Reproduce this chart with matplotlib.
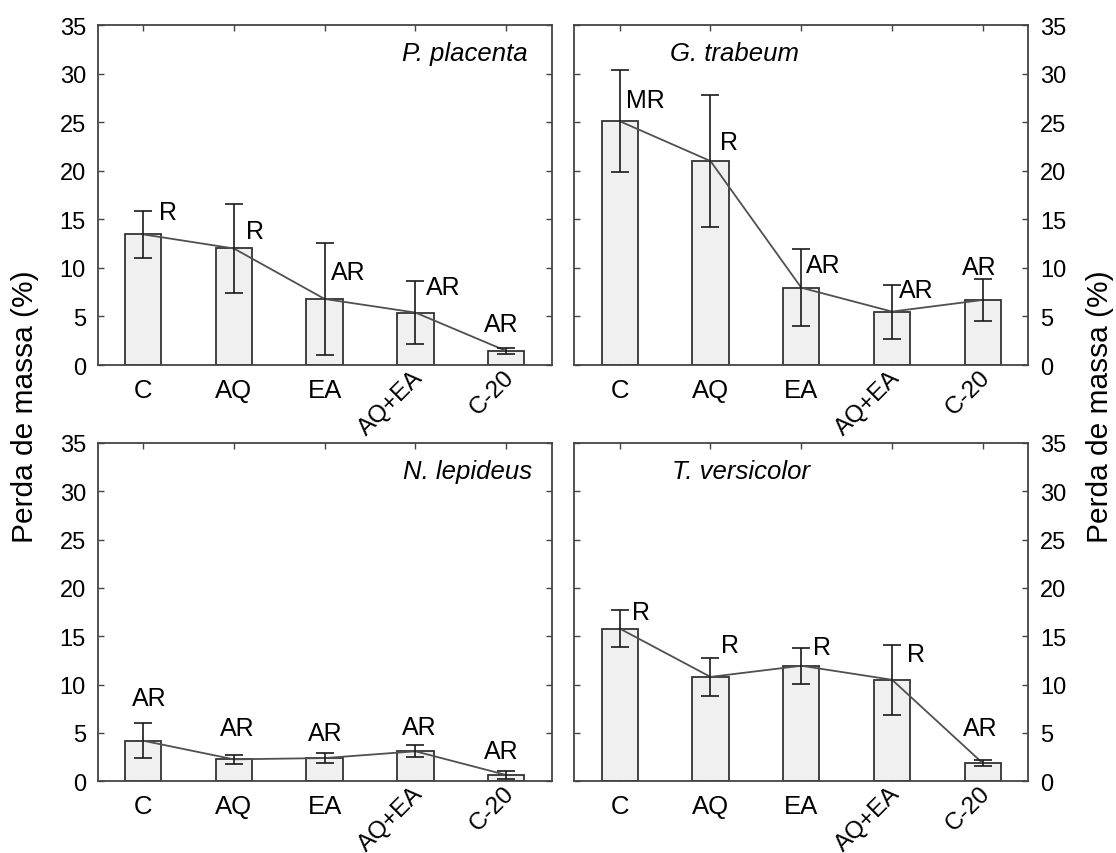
import matplotlib
matplotlib.use('Agg')
import numpy as np
from matplotlib import pyplot as plt
from matplotlib.transforms import ScaledTranslation

plt.rcParams['font.family'] = ['Liberation Sans', 'DejaVu Sans']

categories = ['C', 'AQ', 'EA', 'AQ+EA', 'C-20']

placenta_mean = [13.45, 12.0, 6.8, 5.4, 1.45]
placenta_sd = [2.45, 4.6, 5.8, 3.25, 0.33]
placenta_letters = ['R', 'R', 'AR', 'AR', 'AR']

trabeum_mean = [25.1, 21.0, 7.96, 5.5, 6.7]
trabeum_sd = [5.25, 6.8, 3.97, 2.78, 2.2]
trabeum_letters = ['MR', 'R', 'AR', 'AR', 'AR']

lepideus_mean = [4.2, 2.27, 2.4, 3.1, 0.65]
lepideus_sd = [1.78, 0.45, 0.53, 0.63, 0.43]
lepideus_letters = ['AR', 'AR', 'AR', 'AR', 'AR']

versicolor_mean = [15.8, 10.8, 11.95, 10.5, 1.86]
versicolor_sd = [1.9, 1.93, 1.85, 3.6, 0.33]
versicolor_letters = ['R', 'R', 'R', 'R', 'AR']

# where each letter sits: (offset of its left edge from the bar centre, height in %)
placenta_label_pos = [(0.175, 15.8), (0.133, 13.8), (0.066, 9.55), (0.116, 8.0), (-0.24, 4.2)]
trabeum_label_pos = [(0.07, 27.3), (0.105, 23.0), (0.048, 10.3), (0.08, 7.75), (-0.227, 10.1)]
lepideus_label_pos = [(-0.119, 8.65), (-0.153, 5.5), (-0.18, 4.97), (-0.152, 5.58), (-0.24, 3.16)]
versicolor_label_pos = [(0.132, 17.56), (0.116, 14.1), (0.13, 13.87), (0.168, 13.14), (-0.216, 5.5)]

EDGE = '#333333'


def draw_panel(ax, means, sd, letters, label_pos, species, species_x, species_ha, right_side=False):
    """Bars with error bars, a line through the means and the letter labels."""
    x = np.arange(len(categories))
    ax.bar(x, means, width=0.4, color='#f0f0f0', edgecolor=EDGE, linewidth=1.3, zorder=2)
    ax.errorbar(x, means, yerr=sd, fmt='none', ecolor='#1a1a1a', elinewidth=1.2,
                capsize=6.7, capthick=1.2, zorder=4)
    ax.plot(x, means, color='#505050', linewidth=1.3, zorder=3)

    for i, (lab, (dx, y)) in enumerate(zip(letters, label_pos)):
        ax.text(x[i] + dx, y, lab, ha='left', va='center', fontsize=18, zorder=5)

    ax.text(species_x, 0.918, species, transform=ax.transAxes, ha=species_ha, va='center',
            fontsize=18.5, style='italic')

    ax.set_xlim(-0.5, len(categories) - 0.5)
    ax.set_ylim(0, 35)
    ax.set_yticks(range(0, 36, 5))
    ax.set_xticks(x)
    ax.set_xticklabels(categories)

    ax.tick_params(axis='both', direction='in', length=4.5, width=1.0, color='#444444',
                   top=True, bottom=True, left=True, right=True)
    ax.tick_params(axis='y', pad=8.4, labelsize=17)
    ax.tick_params(axis='x', pad=9, labelsize=18.5)
    if right_side:
        ax.tick_params(axis='y', labelleft=False, labelright=True)

    # last two category names are slanted, like in the original
    shift = ScaledTranslation(3 / 72, 3 / 72, ax.figure.dpi_scale_trans)
    for lbl in ax.get_xticklabels()[3:]:
        lbl.set_rotation(45)
        lbl.set_ha('right')
        lbl.set_va('center')
        lbl.set_rotation_mode('anchor')
        lbl.set_fontsize(17.5)
        lbl.set_transform(lbl.get_transform() + shift)

    for spine in ax.spines.values():
        spine.set_color('#444444')
        spine.set_linewidth(1.3)


fig = plt.figure(figsize=(11.16, 8.54), dpi=100)

w = 0.4068
ax1 = fig.add_axes([0.0875, 0.5714, w, 0.3981])
ax2 = fig.add_axes([0.5146, 0.5714, w, 0.3981])
ax3 = fig.add_axes([0.0875, 0.0840, w, 0.3961])
ax4 = fig.add_axes([0.5146, 0.0840, w, 0.3961])

draw_panel(ax1, placenta_mean, placenta_sd, placenta_letters, placenta_label_pos,
           'P. placenta', 0.948, 'right')
draw_panel(ax2, trabeum_mean, trabeum_sd, trabeum_letters, trabeum_label_pos,
           'G. trabeum', 0.211, 'left', right_side=True)
draw_panel(ax3, lepideus_mean, lepideus_sd, lepideus_letters, lepideus_label_pos,
           'N. lepideus', 0.956, 'right')
draw_panel(ax4, versicolor_mean, versicolor_sd, versicolor_letters, versicolor_label_pos,
           'T. versicolor', 0.2145, 'left', right_side=True)

fig.text(25 / 1116, 1 - 407 / 854, 'Perda de massa (%)', rotation=90, ha='center', va='center',
         fontsize=21.5)
fig.text(1100 / 1116, 1 - 407 / 854, 'Perda de massa (%)', rotation=90, ha='center', va='center',
         fontsize=21.5)

fig.savefig('out.png', dpi=100)
